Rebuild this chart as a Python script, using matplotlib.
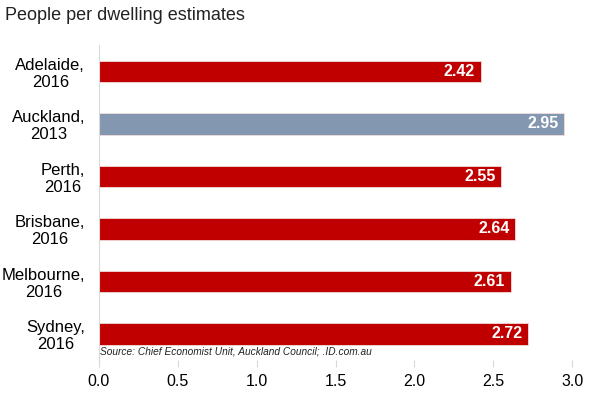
import matplotlib.pyplot as plt

plt.rcParams['font.family'] = ['Liberation Sans', 'DejaVu Sans']

cities = ['Adelaide,\n2016', 'Auckland,\n2013', 'Perth,\n2016', 'Brisbane,\n2016',
          'Melbourne,\n2016', 'Sydney,\n2016']
values = [2.42, 2.95, 2.55, 2.64, 2.61, 2.72]
colors = ['#C00000', '#8497B0', '#C00000', '#C00000', '#C00000', '#C00000']

fig = plt.figure(figsize=(5.91, 3.93), dpi=100)
ax = fig.add_axes([0.1675, 0.084, 0.8005, 0.801])

pos = list(range(len(cities)))
bars = ax.barh(pos, values, height=0.41, color=colors, edgecolor='#F2DCDC', linewidth=0.6)

for y, v in zip(pos, values):
    ax.text(v - 0.035, y, f"{v:.2f}", ha='right', va='center', color='white',
            fontsize=11.5, fontweight='bold')

ax.set_ylim(5.5, -0.5)
ax.set_xlim(0, 3.0)
ax.set_xticks([0, 0.5, 1.0, 1.5, 2.0, 2.5, 3.0])
ax.set_xticklabels(['0.0', '0.5', '1.0', '1.5', '2.0', '2.5', '3.0'])
ax.set_yticks(pos)
ax.set_yticklabels(cities, fontsize=12, linespacing=1.15, multialignment='center')
ax.tick_params(axis='y', length=0, pad=10)
ax.tick_params(axis='x', length=5, color='#D9D9D9', labelsize=11.5, pad=5)

for s in ['top', 'right', 'bottom']:
    ax.spines[s].set_visible(False)
ax.spines['left'].set_color('#D9D9D9')
ax.spines['left'].set_linewidth(0.8)

ax.text(0.003, 0.018, 'Source: Chief Economist Unit, Auckland Council; .ID.com.au',
        transform=ax.transAxes, fontsize=7.3, style='italic', color='#222222')

fig.text(0.008, 0.96, 'People per dwelling estimates', fontsize=13, va='center', color='#222222')

plt.savefig('out.png', dpi=100)
